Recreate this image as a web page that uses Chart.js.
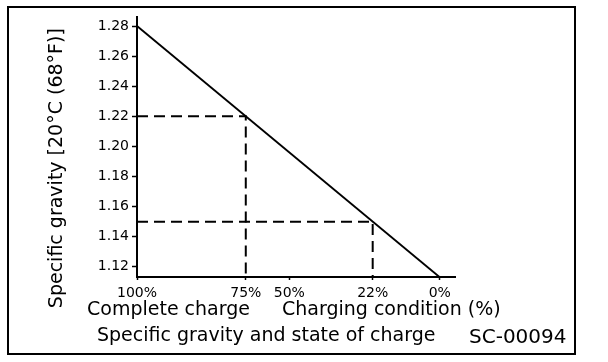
<!DOCTYPE html>
<html>
<head>
<meta charset="utf-8">
<script src="https://cdn.jsdelivr.net/npm/chart.js@4"></script>
<style>
  html, body { margin: 0; padding: 0; background: #fff; }
  #wrap { position: relative; width: 608px; height: 362px; overflow: hidden; background: #fff; }
  #frame { position: absolute; left: 7px; top: 6px; width: 569px; height: 349px; box-sizing: border-box; border: 2px solid #000; pointer-events: none; }
  canvas { position: absolute; left: 0; top: 0; }
  .cap { position: absolute; font-family: "DejaVu Sans", sans-serif; color: #000; line-height: 1; white-space: nowrap; }
  #xt1 { left: 87px; top: 299px; font-size: 19px; }
  #xt2 { left: 282px; top: 299px; font-size: 19px; }
  #caption { left: 97px; top: 325px; font-size: 19px; }
  #code { left: 469px; top: 326px; font-size: 20px; }
</style>
</head>
<body>
<div id="wrap">
  <canvas id="c" width="608" height="362"></canvas>
  <div id="frame"></div>
  <div id="xt1" class="cap">Complete charge</div>
  <div id="xt2" class="cap">Charging condition (%)</div>
  <div id="caption" class="cap">Specific gravity and state of charge</div>
  <div id="code" class="cap">SC-00094</div>
</div>
<script>
// ---- data ----
const gravityTicks = [1.28, 1.26, 1.24, 1.22, 1.20, 1.18, 1.16, 1.14, 1.12];
const chargeLabels = ['100%', '75%', '50%', '22%', '0%'];
const chargeGravity = [1.28, 1.22, 1.196, 1.15, 1.113];   // specific gravity at each charge mark
const lineGravity = [1.28, 1.113];                         // complete charge -> fully discharged
const markedGravity = [1.22, 1.15];                        // dashed read-off examples
const yTitle = 'Specific gravity [20°C (68°F)]';

const Y_MIN = 1.1132, Y_MAX = 1.286;
const X_RIGHT = 1.1046, X_LEFT = 1.28;

const FONT = '"DejaVu Sans", sans-serif';

const mainLine = lineGravity.map(g => ({ x: g, y: g }));
const dashSets = markedGravity.map(g => ({
  data: [{ x: X_LEFT, y: g }, { x: g, y: g }, { x: g, y: Y_MIN }],
  borderColor: '#000', borderWidth: 2, borderDash: [11, 6],
  pointRadius: 0, fill: false, tension: 0
}));

new Chart(document.getElementById('c'), {
  type: 'line',
  data: {
    datasets: [
      { data: mainLine, borderColor: '#000', borderWidth: 1.8, pointRadius: 0, fill: false, tension: 0 },
      ...dashSets
    ]
  },
  options: {
    responsive: false,
    animation: false,
    events: [],
    layout: { padding: { left: 0, top: 17, right: 153, bottom: 0 } },
    plugins: { legend: { display: false }, tooltip: { enabled: false }, title: { display: false } },
    scales: {
      x: {
        type: 'linear',
        reverse: true,
        min: X_RIGHT, max: X_LEFT,
        afterBuildTicks: s => { s.ticks = chargeGravity.map(v => ({ value: v })); },
        afterFit: s => { s.height = 85; },
        ticks: {
          autoSkip: false, maxRotation: 0, color: '#000', padding: 5,
          font: { family: FONT, size: 14 },
          callback: (v, i) => chargeLabels[i]
        },
        grid: { display: true, drawOnChartArea: false, drawTicks: true, tickLength: 3, tickWidth: 1.5, tickColor: '#000' },
        border: { display: true, color: '#000', width: 2 },
        title: { display: false }
      },
      y: {
        type: 'linear',
        min: Y_MIN, max: Y_MAX,
        afterBuildTicks: s => { s.ticks = gravityTicks.map(v => ({ value: v })); },
        afterFit: s => { s.width = 137; },
        ticks: {
          color: '#000', padding: 3,
          font: { family: FONT, size: 14 },
          callback: v => Number(v).toFixed(2)
        },
        grid: { display: true, drawOnChartArea: false, drawTicks: true, tickLength: 5, tickWidth: 1.5, tickColor: '#000' },
        border: { display: true, color: '#000', width: 2 },
        title: { display: true, text: yTitle + '       ', color: '#000', font: { family: FONT, size: 19 }, padding: { top: 46, bottom: 0 } }
      }
    }
  }
});
</script>
</body>
</html>
